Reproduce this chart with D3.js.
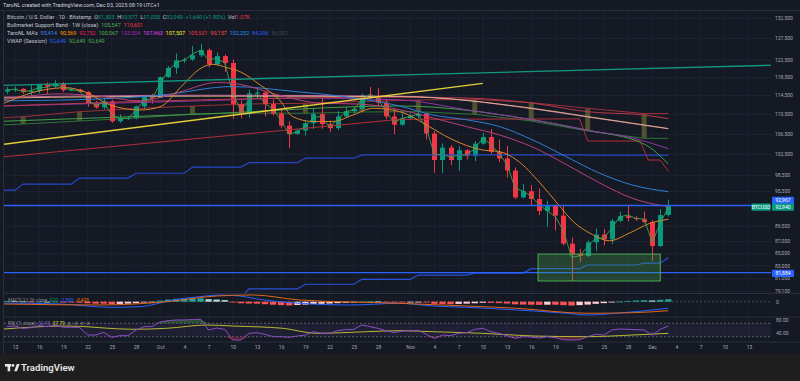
<!DOCTYPE html>
<html><head><meta charset="utf-8">
<script src="https://cdn.jsdelivr.net/npm/d3@7/dist/d3.min.js"></script>
<style>html,body{margin:0;padding:0;background:#151924;overflow:hidden}svg{display:block}text{font-family:Roboto,"Noto Sans",sans-serif}</style>
</head><body><svg id="c" width="800" height="381"></svg>
<script>
// ---------------- DATA (day index 0 = 2025-09-12, daily Bitstamp BTCUSD) ----------------
const openP=[115300,115800,115900,115200,115400,116800,116400,117100,115600,115700,
115200,112700,111900,113200,109000,109600,109700,112100,114300,113900,
118500,120600,122300,122500,123500,124700,121400,123300,121700,112600,
110600,114900,115100,112600,110600,108100,106400,107100,108600,110500,
108400,107600,110000,111100,111600,114500,114100,112900,110000,108300,
109600,110100,110600,106500,101300,103700,101300,103200,102100,104500,
105800,102900,101600,99300,94400,95500,94100,92000,92900,91200,
86500,84800,84500,86700,88000,87200,90300,91100,90800,90600,
90100,86100,91303];
const highP=[116300,116400,116000,116700,117000,117300,117800,117400,116100,115900,
115400,113300,113900,113500,110400,109900,112300,114400,114800,118600,
121000,123900,122900,125700,126200,125100,124100,123700,122500,113400,
115700,115900,115400,113600,111600,109000,107400,109300,111600,114000,
109100,111100,112000,111900,114900,116300,116000,113600,111600,111000,
110600,111200,110700,107000,104500,104200,104000,103400,105000,106600,
107400,105300,104000,99900,96800,96600,96000,93800,93100,93100,
87500,85600,87000,89000,88900,90600,91900,93000,91100,91900,
90400,92300,93977];
const lowP=[114800,115200,114800,114400,114900,114800,116100,115200,115400,115100,
112000,111600,111500,108700,108700,109300,109400,111600,112700,113900,
118300,119200,121700,122200,123100,120700,121100,119700,109500,109600,
109800,113800,110000,110200,107600,103600,106300,106100,107400,107500,
106800,107200,109800,110600,111300,113800,112300,109400,106400,108100,
109400,109600,105300,98900,98800,100300,99300,101400,101100,104300,
102500,100900,98000,94100,94200,93000,91300,89300,88700,86200,
80600,83500,84300,85300,86200,86400,90100,90200,90300,89900,
83700,86000,91030];
const closeP=[115800,115900,115200,115400,116800,116400,117100,115600,115700,115200,
112700,111900,113200,109000,109600,109700,112100,114300,113900,118500,
120600,122300,122500,123500,124700,121400,123300,121700,112600,110600,
114900,115100,112600,110600,108100,106400,107100,108600,110500,108400,
107600,110000,111100,111600,114500,114100,112900,110000,108300,109600,
110100,110600,106500,101300,103700,101300,103200,102100,104500,105800,
102900,101600,99300,94400,95500,94100,92000,92900,91200,86500,
84800,84500,86700,88000,87200,90300,91100,90800,90600,90100,
86100,91300,92940];
const vwapP=[115600,115800,115300,115500,116200,116200,117000,116100,115700,115400,
113400,112300,112900,110400,109600,109600,111300,113400,113800,117000,
120000,121800,122400,123800,124700,122400,122800,121700,114900,111200,
113500,114900,112700,111500,109100,106300,106900,108000,109800,110000,
107800,109400,111000,111400,113600,114700,113700,111000,108800,109600,
110000,110500,107500,102400,102300,101900,102200,102300,103500,105600,
104300,102600,100400,96100,95500,94600,93100,92000,91000,88600,
84300,84500,86000,87400,87400,89100,91000,91300,90700,90600,
86700,89900,92649];

// moving averages: [day, price]
const maBlue=[[-0.5,113300],[11.5,113700],[19,114500],[28,116400],[36.3,115200],[40.4,114500],[48.7,112200],[52.8,110300],[57,109300],[61.1,107900],[65.2,105200],[69.4,101900],[73.5,98800],[77.6,96600],[82,95414]];
const maOrange=[[-0.9,112400],[4.5,115640],[7.4,116140],[9.9,115060],[12.8,112400],[16.5,111350],[19,112040],[21.8,116740],[23.9,120330],[25.5,121400],[27.3,120630],[28.9,119720],[31.4,116740],[33.8,113470],[35.4,109990],[37.9,108960],[40.4,108960],[42.9,110300],[45.4,111700],[48.7,111000],[52.4,107880],[54.9,105550],[59,103240],[61.1,102910],[63.2,101310],[66.1,97000],[68.2,93400],[70.4,89930],[72.3,88200],[74.7,86970],[77.2,88250],[79.7,89880],[82,90569]];
const maPink=[[-0.5,113500],[6.6,114800],[11.5,114300],[16.5,113300],[21.4,115200],[26,117300],[28.5,117000],[33.8,114500],[38.8,112800],[43.8,112600],[48.7,111400],[52.8,109700],[57,107900],[61.1,106200],[65.2,103800],[69.4,100400],[73.5,97000],[77.6,94200],[82,92752]];
const maGreen=[[-0.5,109000],[24,110500],[48.7,112200],[65.2,109300],[71.9,107200],[79,104400],[82,100567]];
const maPurple=[[-0.5,112200],[24,113300],[36.3,113900],[48.7,113500],[57,111400],[65.2,109300],[71.9,107200],[77.6,105600],[82,103504]];
const maMagenta=[[-0.5,114100],[24,114500],[48.7,114300],[65.2,111600],[71.9,109900],[82,107463]];
const maYellow=[[-0.5,113900],[24,114300],[48.7,114200],[65.2,111700],[71.9,110000],[82,107507]];
const maRed=[[-0.5,112200],[24,113500],[48.7,114100],[57,113900],[65.2,112800],[71.9,111000],[79,110300],[82,109531]];
const maRedStep=[[-0.5,101900],[48.7,109400],[71,109500],[72,105000],[78.5,105000],[79.5,101300],[81,101300],[82,99157]];
// weekly step MAs (value changes on Sundays)
const stepBlueDays=[-1,2,9,16,23,30,37,44,72];
const stepBlueVals=[95700,96800,97900,98800,99950,100800,101650,102300,102252];
const stepNavyDays=[-1,30,37,44,51,58,65,72,79,82];
const stepNavyVals=[78000,79400,80100,80850,81500,81800,82500,83070,83350,84206];
// Bullmarket support band (1W) sampled on Sundays
const bandDays=[2,9,16,23,30,37,44,51,58,65,72,79];
const bandEma=[109950,110990,111660,112190,112620,112770,113150,113470,113620,112900,111710,110601];
const bandSma=[108440,109060,109680,110510,110720,110660,110930,110990,110450,109060,107020,105547];
// trend lines [day, price]
const trendTeal=[[-0.4,116660],[94.7,121170]];
const trendYellow=[[-0.4,104360],[59,117080]];
const hLines=[92967,81884];
const boxDays=[65.85,81.0], boxPrices=[80600,84800];

// MACD (12,26) and RSI(7)
const macdHist=[300,200,100,-50,50,0,80,-150,-250,-350,-600,-750,-750,-900,-850,-750,-550,-250,-50,400,
800,1100,1200,1250,1250,950,800,600,-100,-600,-700,-750,-950,-1150,-1300,-1400,-1250,-1100,-900,-800,
-700,-550,-400,-250,50,150,100,-50,-250,-250,-150,-50,-300,-800,-850,-950,-850,-750,-600,-400,
-450,-550,-700,-1000,-1100,-1150,-1200,-1150,-1150,-1300,-1450,-1300,-1100,-800,-550,-250,50,300,450,550,
450,700,920];
const macdLine=[[-0.5,-500],[6.6,-870],[12.8,-2130],[16.5,-1900],[20.6,650],[23.9,1900],[26.4,2550],[28.9,2170],[30.5,1290],[36.3,-610],[42.5,-1250],[48.7,-610],[52.8,-1630],[57,-2130],[63.2,-3150],[69.4,-4400],[71.9,-5050],[75.6,-4400],[82,-2500]];
const signalLine=[[-0.5,-870],[11.5,-1250],[19.8,0],[26,2170],[30.5,2550],[36.3,650],[48.7,-610],[57,-1630],[63.2,-2500],[71.9,-4400],[77.6,-4180],[82,-3420]];
const rsiVals=[60,62,55,57,63,60,64,58,58,58,35,35,43,28,33,33,50,60,60,74,
78,80,80,81,82,50,56,52,20,20,40,42,37,30,30,28,32,35,45,40,
40,48,51,52,65,60,55,48,42,47,48,49,37,25,35,33,40,42,52,55,
45,40,33,25,30,29,26,30,27,21,20,21,30,37,35,50,53,52,51,50,
35,52,62];
const rsiMa=[[-0.9,52.1],[7.4,61.9],[15.6,52.1],[19.8,55.1],[24.8,64.9],[28,61.9],[34.2,55.1],[38.4,40.1],[44.6,44.9],[48.7,47.9],[52.8,44.9],[59,40.1],[65.2,32.1],[71.9,30],[77.6,35.1],[82,40.1]];

const priceTicks=[132500,127500,122500,118500,114500,110500,106500,102500,98500,95500,89500,87000,85000,83000,81000,79100];
const dateTicks=["2025-09-13","2025-09-16","2025-09-19","2025-09-22","2025-09-25","2025-09-28","2025-10-01","2025-10-04","2025-10-07","2025-10-10","2025-10-13","2025-10-16","2025-10-19","2025-10-22","2025-10-25","2025-10-28","2025-11-01","2025-11-04","2025-11-07","2025-11-10","2025-11-13","2025-11-16","2025-11-19","2025-11-22","2025-11-25","2025-11-28","2025-12-01","2025-12-04","2025-12-07","2025-12-10","2025-12-13"];

// ---------------- LAYOUT ----------------
const W=800,H=381, PL=4, PR=771, MT=10.5, MB=293.5, DT=317, RB=342, AB=353.5;
const BG="#151924", GRID="#1c2030", AXT="#a7aab3";
const UP="#089981", DOWN="#f23645";
const svg=d3.select("#c");
svg.append("rect").attr("width",W).attr("height",H).attr("fill",BG);
svg.append("rect").attr("y",AB).attr("width",W).attr("height",H-AB).attr("fill","#1e1e1e");

const day0=Date.UTC(2025,8,12);
const dt=d=>new Date(day0+d*864e5);
const x=d3.scaleUtc().domain([dt(1),dt(92)]).range([15,749]);
const y=d3.scaleLog().domain([79100,132500]).range([290.9,18]);
const yM=d3.scaleLinear().domain([-5510,3230]).range([316.2,293.2]);
const yR=d3.scaleLinear().domain([30,70]).range([336.7,323.3]);
const xd=d=>x(dt(d));

const defs=svg.append("defs");
function clip(id,y0,y1){defs.append("clipPath").attr("id",id).append("rect").attr("x",PL).attr("y",y0).attr("width",PR-PL).attr("height",y1-y0);}
clip("cm",MT,MB);clip("cd",MB,DT);clip("cr",DT,RB);

// grid
const g=svg.append("g");
const tickDates=dateTicks.map(s=>new Date(s+"T00:00:00Z"));
g.selectAll("line.v").data(tickDates).join("line").attr("x1",d=>x(d)).attr("x2",d=>x(d)).attr("y1",MT).attr("y2",RB).attr("stroke",GRID).attr("stroke-width",1);
g.selectAll("line.h").data(priceTicks).join("line").attr("x1",PL).attr("x2",PR).attr("y1",d=>Math.round(y(d))+0.5).attr("y2",d=>Math.round(y(d))+0.5).attr("stroke",GRID);
[MB,DT,RB].forEach(yy=>svg.append("line").attr("x1",PL).attr("x2",W).attr("y1",yy).attr("y2",yy).attr("stroke","#2a2e39"));
svg.append("line").attr("x1",0).attr("x2",W).attr("y1",MT).attr("y2",MT).attr("stroke","#2a2e39");
svg.append("line").attr("x1",PL-0.5).attr("x2",PL-0.5).attr("y1",MT).attr("y2",AB).attr("stroke","#2a2e39");

// ---------------- MAIN PANE ----------------
const main=svg.append("g").attr("clip-path","url(#cm)");
const line=d3.line().x(p=>xd(p[0])).y(p=>y(p[1]));
const smooth=d3.line().x(p=>xd(p[0])).y(p=>y(p[1])).curve(d3.curveMonotoneX);

main.selectAll("rect.band").data(bandDays).join("rect")
 .attr("x",d=>xd(d)-2.5).attr("width",5)
 .attr("y",(d,i)=>y(bandEma[i])).attr("height",(d,i)=>y(bandSma[i])-y(bandEma[i]))
 .attr("fill","rgba(140,135,55,0.5)");
const bandEmaPts=bandDays.map((d,i)=>[d,bandEma[i]]).concat([[82,bandEma[bandEma.length-1]]]);
const bandSmaPts=bandDays.map((d,i)=>[d,bandSma[i]]).concat([[82,bandSma[bandSma.length-1]]]);
bandEmaPts.unshift([-1,109700]);bandSmaPts.unshift([-1,108200]);
main.append("path").attr("d",line(bandEmaPts)).attr("fill","none").attr("stroke","#9c3039").attr("stroke-width",1);
main.append("path").attr("d",line(bandSmaPts)).attr("fill","none").attr("stroke","#2f7536").attr("stroke-width",1);

// candles
const idx=d3.range(openP.length);
const cg=main.append("g");
cg.selectAll("line").data(idx).join("line")
 .attr("x1",i=>Math.round(xd(i))+0.5).attr("x2",i=>Math.round(xd(i))+0.5)
 .attr("y1",i=>y(highP[i])).attr("y2",i=>y(lowP[i]))
 .attr("stroke",i=>closeP[i]>=openP[i]?UP:DOWN).attr("stroke-width",1);
cg.selectAll("rect").data(idx).join("rect")
 .attr("x",i=>Math.round(xd(i))-2).attr("width",5)
 .attr("y",i=>y(Math.max(openP[i],closeP[i])))
 .attr("height",i=>Math.max(1,y(Math.min(openP[i],closeP[i]))-y(Math.max(openP[i],closeP[i]))))
 .attr("fill",i=>closeP[i]>=openP[i]?UP:DOWN);

function stepPts(days,vals){const pts=[];days.forEach((d,i)=>{pts.push([d,vals[i]]);const nd=i<days.length-1?days[i+1]-1:82;if(nd>d)pts.push([nd,vals[i]]);});return pts;}
main.append("path").attr("d",line(stepPts(stepBlueDays,stepBlueVals))).attr("fill","none").attr("stroke","#2448c8").attr("stroke-width",1.2);
main.append("path").attr("d",line(stepPts(stepNavyDays,stepNavyVals))).attr("fill","none").attr("stroke","#2a50d8").attr("stroke-width",1.2);
main.append("path").attr("d",line(maRedStep)).attr("fill","none").attr("stroke","#b22f3c").attr("stroke-width",1);

[[maGreen,"#43a047"],[maPurple,"#8e35a8"],[maRed,"#b8394a"],[maMagenta,"#c0609e"],[maYellow,"rgba(232,190,140,0.85)"],[maBlue,"#2f7fd6"],[maPink,"#b8407a"],[maOrange,"#d9862a"]]
 .forEach(([pts,c])=>main.append("path").attr("d",smooth(pts)).attr("fill","none").attr("stroke",c).attr("stroke-width",1));
main.append("path").attr("d",d3.line().x((v,i)=>xd(i)).y(v=>y(v))(vwapP)).attr("fill","none").attr("stroke","#3fa34d").attr("stroke-width",0.9);

main.append("path").attr("d",line(trendTeal)).attr("stroke","#12977e").attr("stroke-width",1.4).attr("fill","none");
main.append("path").attr("d",line(trendYellow)).attr("stroke","#e3cf3a").attr("stroke-width",1.3).attr("fill","none");
main.selectAll("line.hl").data(hLines).join("line").attr("x1",PL).attr("x2",PR).attr("y1",d=>y(d)).attr("y2",d=>y(d)).attr("stroke","#2962ff").attr("stroke-width",1.4);
main.append("rect").attr("x",xd(boxDays[0])).attr("width",xd(boxDays[1])-xd(boxDays[0]))
 .attr("y",y(boxPrices[1])).attr("height",y(boxPrices[0])-y(boxPrices[1]))
 .attr("fill","rgba(76,175,80,0.28)").attr("stroke","#4caf50").attr("stroke-width",1);

// price axis
const pax=svg.append("g").attr("transform",`translate(${PR},0)`).call(d3.axisRight(y).tickValues(priceTicks).tickFormat(d3.format(",")).tickSize(0).tickPadding(4));
pax.select(".domain").remove();
pax.selectAll("text").attr("fill",AXT).attr("font-size",5).attr("font-family","Roboto,sans-serif");

function tag(xx,w,yc,txt,col){svg.append("rect").attr("x",xx).attr("y",yc-3.6).attr("width",w).attr("height",7.2).attr("fill",col).attr("rx",0.8);
 svg.append("text").attr("x",xx+w/2).attr("y",yc+1.8).attr("text-anchor","middle").attr("font-size",5).attr("fill","#fff").text(txt);}
tag(PR+1,22,200.3,"92,967","#2962ff");
tag(PR+1,22,207.2,"92,940",UP);
tag(751.5,19,207.2,"BTCUSD",UP);
tag(PR+1,22,273.4,"81,884","#2962ff");

// ---------------- MACD PANE ----------------
const mg=svg.append("g").attr("clip-path","url(#cd)");
mg.append("line").attr("x1",PL).attr("x2",PR).attr("y1",yM(0)).attr("y2",yM(0)).attr("stroke","#434651").attr("stroke-dasharray","2,2");
mg.selectAll("rect").data(macdHist).join("rect")
 .attr("x",(v,i)=>xd(i)-3.2).attr("width",6.4)
 .attr("y",v=>Math.min(yM(v),yM(0))).attr("height",v=>Math.max(0.8,Math.abs(yM(v)-yM(0))))
 .attr("fill",(v,i)=>{const p=i>0?macdHist[i-1]:v;return v>=0?(v>=p?"#26a69a":"#b2dfdb"):(v<=p?"#ff5252":"#ffcdd2");});
const ml=d3.line().x(p=>xd(p[0])).y(p=>yM(p[1])).curve(d3.curveMonotoneX);
mg.append("path").attr("d",ml(macdLine)).attr("fill","none").attr("stroke","#2962ff").attr("stroke-width",1);
mg.append("path").attr("d",ml(signalLine)).attr("fill","none").attr("stroke","#e0661c").attr("stroke-width",1);
svg.append("text").attr("x",PR+5).attr("y",yM(0)+1.8).attr("font-size",5).attr("fill",AXT).text("0");

// ---------------- RSI PANE ----------------
const rg=svg.append("g").attr("clip-path","url(#cr)");
rg.append("rect").attr("x",PL).attr("width",PR-PL).attr("y",yR(70)).attr("height",yR(30)-yR(70)).attr("fill","rgba(126,87,194,0.10)");
[70,30].forEach(v=>rg.append("line").attr("x1",PL).attr("x2",PR).attr("y1",yR(v)).attr("y2",yR(v)).attr("stroke","#5d606b").attr("stroke-dasharray","2,2"));
rg.append("path").attr("d",d3.area().x((v,i)=>xd(i)).y0(yR(70)).y1(v=>yR(Math.max(v,70)))(rsiVals)).attr("fill","rgba(76,175,80,0.35)");
rg.append("path").attr("d",d3.area().x((v,i)=>xd(i)).y0(yR(30)).y1(v=>yR(Math.min(v,30)))(rsiVals)).attr("fill","rgba(242,54,69,0.3)");
rg.append("path").attr("d",d3.line().x(p=>xd(p[0])).y(p=>yR(p[1])).curve(d3.curveMonotoneX)(rsiMa)).attr("fill","none").attr("stroke","#b9b935").attr("stroke-width",1);
rg.append("path").attr("d",d3.line().x((v,i)=>xd(i)).y(v=>yR(v))(rsiVals)).attr("fill","none").attr("stroke","#8a4fc2").attr("stroke-width",1);
[[80,"80.00"],[40,"40.00"]].forEach(([v,t])=>svg.append("text").attr("x",PR+5).attr("y",yR(v)+1.8).attr("font-size",5).attr("fill",AXT).text(t));

// ---------------- DATE AXIS ----------------
const fmt=d=>d.getUTCDate()===1?d3.utcFormat("%b")(d):String(d.getUTCDate());
const dax=svg.append("g").attr("transform",`translate(0,${RB+4})`).call(d3.axisBottom(x).tickValues(tickDates).tickFormat(fmt).tickSize(0).tickPadding(0));
dax.select(".domain").remove();
dax.selectAll("text").attr("fill",AXT).attr("font-size",5).attr("dy","0.6em").attr("font-family","Roboto,sans-serif");

// ---------------- LEGENDS ----------------
const LT="#c3c6ce";
svg.append("text").attr("x",3).attr("y",7).attr("font-size",5.4).attr("fill","#d1d4dc").text("TaroNL created with TradingView.com, Dec 03, 2025 08:19 UTC+1");
function legend(yb,parts){const t=svg.append("text").attr("x",7).attr("y",yb).attr("font-size",5.5).attr("fill",LT).attr("xml:space","preserve");
 parts.forEach(([s,c])=>t.append("tspan").attr("fill",c||LT).text(s));}
const G="#089981";
legend(18.6,[["Bitcoin / U.S. Dollar · 1D · Bitstamp  "],["O"],["91,303",G],["  H"],["93,977",G],["  L"],["91,030",G],["  C"],["92,940",G],["  +1,640 (+1.80%)",G],["  Vol"],["1.07K","#f23645"]]);
legend(26.8,[["Bullmarket Support Band · 1W (close)  "],["105,547","#4caf50"],["  "],["110,601","#f23645"]]);
legend(35,[["TaroNL MA's  "],["95,414","#3d8bf0"],["  "],["90,569","#ff9800"],["  "],["92,752","#e91e63"],["  "],["100,567","#4caf50"],["  "],["103,504","#9c27b0"],["  "],["107,463","#e040fb"],["  "],["107,507","#ffeb3b"],["  "],["109,531","#f23645"],["  "],["99,157","#ff5252"],["  "],["102,252","#2196f3"],["  "],["84,206","#2962ff"],["  "],["56,082","#434651"]]);
legend(42.8,[["VWAP (Session)  "],["92,649","#2962ff"],["  "],["92,649","#4caf50"],["  "],["92,649","#4caf50"]]);
function small(yb,parts){const t=svg.append("text").attr("x",8).attr("y",yb).attr("font-size",4.8).attr("fill","#8a8d96").attr("xml:space","preserve");
 parts.forEach(([s,c])=>t.append("tspan").attr("fill",c||"#8a8d96").text(s));}
small(302.4,[["MACD 12 26 close  "],["920",G],["  "],["-2,500","#2962ff"],["  "],["-3,420","#ff6d00"]]);
small(325,[["RSI (7, close)  "],["56.93","#7e57c2"],["  "],["37.79","#d4d43a"],["  ⊘  ⊘  ⊘  ⊘"]]);

// ---------------- FOOTER ----------------
const lg=svg.append("g").attr("fill","#e6e6e6");
lg.append("rect").attr("x",5).attr("y",364).attr("width",6.2).attr("height",2.6);
lg.append("rect").attr("x",7.6).attr("y",364).attr("width",2.6).attr("height",7.3);
lg.append("circle").attr("cx",13).attr("cy",365.4).attr("r",1.4);
lg.append("path").attr("d","M14.2,371.3 L16.8,364 L19.6,364 L17,371.3 Z");
svg.append("text").attr("x",21).attr("y",371.3).attr("font-size",9.6).attr("font-weight",600).attr("fill","#e6e6e6").text("TradingView");
</script></body></html>
